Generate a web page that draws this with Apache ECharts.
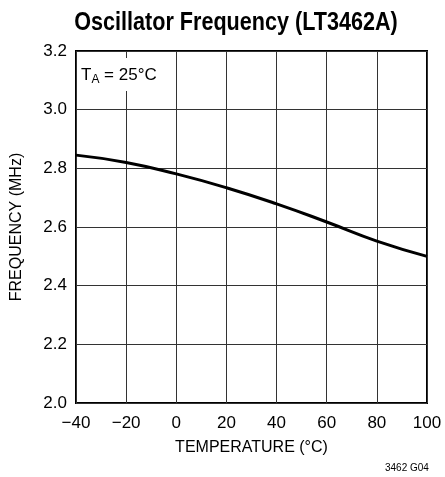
<!DOCTYPE html>
<html><head><meta charset="utf-8">
<script src="https://cdn.jsdelivr.net/npm/echarts@6/dist/echarts.min.js"></script>
<style>html,body{margin:0;padding:0;background:#fff}#c{width:445px;height:477px}</style>
</head><body><div id="c"></div>
<script>
const temperatures = [-40, -20, 0, 20, 40, 60, 80, 100];
const frequencies = [2.845, 2.82, 2.781, 2.734, 2.679, 2.617, 2.552, 2.5];
const xTicks = [-40, -20, 0, 20, 40, 60, 80, 100];
const yTicks = [2.0, 2.2, 2.4, 2.6, 2.8, 3.0, 3.2];
const FONT = '"Liberation Sans", Arial, sans-serif';

const chart = echarts.init(document.getElementById('c'), null, {renderer: 'canvas'});
chart.setOption({
  backgroundColor: '#fff',
  animation: false,
  grid: {left: 76, right: 18, top: 51, bottom: 74, show: true, borderColor: '#000', borderWidth: 2, containLabel: false},
  xAxis: {
    type: 'value', min: xTicks[0], max: xTicks[xTicks.length - 1], interval: 20,
    name: 'TEMPERATURE (°C)', nameLocation: 'middle', nameGap: 37,
    nameTextStyle: {fontFamily: FONT, fontSize: 16, color: '#000'},
    axisLine: {show: false}, axisTick: {show: false},
    axisLabel: {fontFamily: FONT, fontSize: 17, color: '#000', margin: 12,
      formatter: v => String(v).replace('-', '\u2212')},
    splitLine: {show: true, lineStyle: {color: '#333', width: 1}}
  },
  yAxis: {
    type: 'value', min: yTicks[0], max: yTicks[yTicks.length - 1], interval: 0.2,
    name: 'FREQUENCY (MHz)', nameLocation: 'middle', nameGap: 51, nameRotate: 90,
    nameTextStyle: {fontFamily: FONT, fontSize: 16, color: '#000'},
    axisLine: {show: false}, axisTick: {show: false},
    axisLabel: {fontFamily: FONT, fontSize: 17, color: '#000', margin: 9,
      formatter: v => v.toFixed(1)},
    splitLine: {show: true, lineStyle: {color: '#333', width: 1}}
  },
  series: [{
    type: 'line', data: temperatures.map((t, i) => [t, frequencies[i]]),
    smooth: true, symbol: 'none', lineStyle: {color: '#000', width: 3}
  }],
  graphic: [
    {type: 'text', x: 236, y: 23, scaleX: 0.83, z: 100,
      style: {text: 'Oscillator Frequency (LT3462A)', fontFamily: FONT, fontWeight: 'bold',
        fontSize: 26, fill: '#000', align: 'center', verticalAlign: 'middle'}},
    {type: 'text', left: 78, top: 58, z: 100,
      style: {
        rich: {
          a: {fontFamily: FONT, fontSize: 17, fill: '#000', lineHeight: 22},
          s: {fontFamily: FONT, fontSize: 12, fill: '#000', verticalAlign: 'bottom', lineHeight: 22, padding: [8, 0, 0, 0]}
        },
        text: '{a|T}{s|A}{a| = 25°C}',
        backgroundColor: '#fff', padding: [6, 3, 5, 3]
      }},
    {type: 'text', left: 385, top: 463,
      style: {text: '3462 G04', fontFamily: FONT, fontSize: 10, fill: '#000'}}
  ]
});
</script></body></html>
